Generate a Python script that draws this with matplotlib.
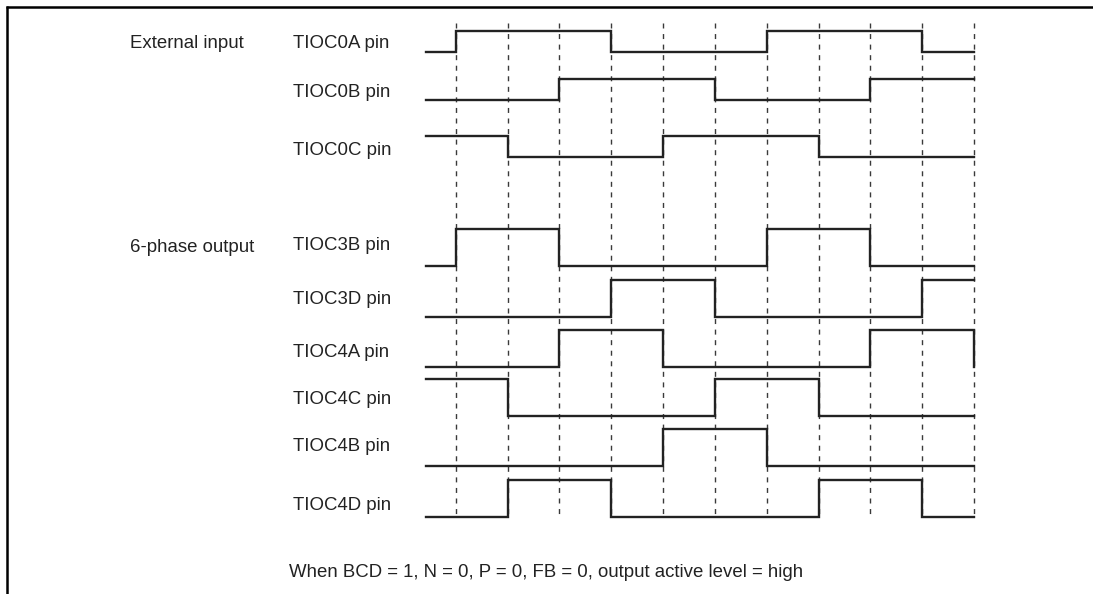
import matplotlib
matplotlib.use("Agg")
import matplotlib.pyplot as plt
from matplotlib.transforms import blended_transform_factory

plt.rcParams['font.family'] = ['Liberation Sans', 'DejaVu Sans']

# ---- data ----
group_labels = ["External input", "6-phase output"]
pin_names = ["TIOC0A pin", "TIOC0B pin", "TIOC0C pin",
             "TIOC3B pin", "TIOC3D pin", "TIOC4A pin",
             "TIOC4C pin", "TIOC4B pin", "TIOC4D pin"]
# edge times (grid index); first value = signal start, last = end of trace
times = [-0.58, 0, 1, 2, 3, 4, 5, 6, 7, 8, 9, 10]
# logic level over each interval (steps-post), last value = level at t=10
tioc0a = [0, 1, 1, 1, 0, 0, 0, 1, 1, 1, 0, 0]
tioc0b = [0, 0, 0, 1, 1, 1, 0, 0, 0, 1, 1, 1]
tioc0c = [1, 1, 0, 0, 0, 1, 1, 1, 0, 0, 0, 0]
tioc3b = [0, 1, 1, 0, 0, 0, 0, 1, 1, 0, 0, 0]
tioc3d = [0, 0, 0, 0, 1, 1, 0, 0, 0, 0, 1, 1]
tioc4a = [0, 0, 0, 1, 1, 0, 0, 0, 0, 1, 1, 0]
tioc4c = [1, 1, 0, 0, 0, 0, 1, 1, 0, 0, 0, 0]
tioc4b = [0, 0, 0, 0, 0, 1, 1, 0, 0, 0, 0, 0]
tioc4d = [0, 0, 1, 1, 0, 0, 0, 0, 1, 1, 0, 0]
dash_times = [0, 1, 2, 3, 4, 5, 6, 7, 8, 9, 10]
footnote = "When BCD = 1, N = 0, P = 0, FB = 0, output active level = high"

levels = [tioc0a, tioc0b, tioc0c, tioc3b, tioc3d, tioc4a, tioc4c, tioc4b, tioc4d]

# ---- layout (pixels, 1093 x 594 canvas) ----
W, H = 1093, 594
x_t0, x_step = 455.7, 51.83          # pixel of t=0 and pixels per grid step
row_low = [52, 100, 157, 266, 317, 367, 416, 466, 517]
row_amp = [21, 21, 21, 37, 37, 37, 37, 37, 37]
label_y = [41.7, 90, 148, 243, 297, 350, 397, 444, 503]   # cap centres
group_y = [41.7, 245]
foot_y = 570
cap_half = 6.6
fs = 13.4

fig = plt.figure(figsize=(W / 100, H / 100), dpi=100)
ax = fig.add_axes([0, 0, 1, 1])
ax.set_xlim(-x_t0 / x_step, (W - x_t0) / x_step)
ax.set_ylim(H, 0)
ax.axis('off')

ink = '#222222'

# frame (top and left edge)
ax.plot([(6 - x_t0) / x_step, (W + 5 - x_t0) / x_step], [7, 7],
        color='black', lw=1.8, solid_capstyle='butt')
ax.plot([(7 - x_t0) / x_step] * 2, [6, H + 5], color='black', lw=1.8,
        solid_capstyle='butt')

# dashed time markers
for t in dash_times:
    ax.plot([t, t], [23, 517], color='#3a3a3a', lw=1.0,
            linestyle=(0, (3.6, 4.0)))

# waveforms
for lv, low, amp in zip(levels, row_low, row_amp):
    ys = [low - amp * v for v in lv]
    ax.plot(times, ys, drawstyle='steps-post', color=ink, lw=1.7,
            solid_joinstyle='miter')

tr = blended_transform_factory(fig.transFigure, ax.transData)
for name, y in zip(pin_names, label_y):
    ax.text(293 / W, y + cap_half, name, transform=tr, fontsize=fs,
            color=ink, ha='left', va='baseline')
for name, y in zip(group_labels, group_y):
    ax.text(130.5 / W, y + cap_half, name, transform=tr, fontsize=fs,
            color=ink, ha='left', va='baseline')
ax.text(289 / W, foot_y + cap_half, footnote, transform=tr, fontsize=fs,
        color=ink, ha='left', va='baseline')

fig.savefig('out.png', dpi=100)
